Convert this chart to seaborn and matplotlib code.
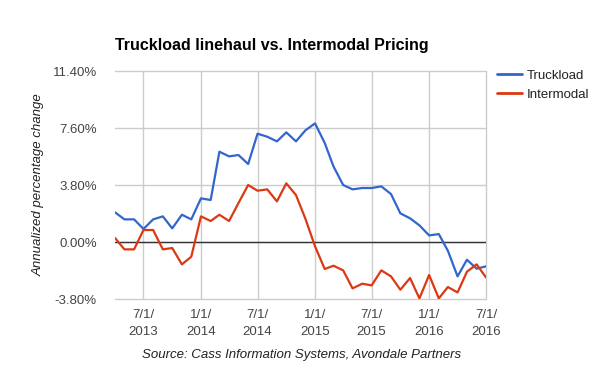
import matplotlib
matplotlib.use('Agg')
import matplotlib.pyplot as plt
import numpy as np
import pandas as pd
import seaborn as sns

sns.set_style('white')
plt.rcParams['font.family'] = ['Liberation Sans', 'DejaVu Sans']

# datos (abr 2013 - jul 2016, mensual)
months = pd.date_range('2013-04-01', '2016-07-01', freq='MS')

truckload = [1.98, 1.51, 1.51, 0.87, 1.51, 1.71, 0.91, 1.82, 1.51,
             2.91, 2.80, 6.02, 5.71, 5.80, 5.20, 7.22, 7.02, 6.71, 7.31, 6.71, 7.44,
             7.91, 6.60, 5.04, 3.80, 3.51, 3.60, 3.60, 3.71, 3.20, 1.91, 1.58, 1.11,
             0.44, 0.53, -0.58, -2.29, -1.18, -1.78, -1.62]

intermodal = [0.27, -0.49, -0.49, 0.80, 0.80, -0.49, -0.40, -1.49, -0.98,
              1.71, 1.40, 1.82, 1.40, 2.60, 3.80, 3.42, 3.51, 2.71, 3.91, 3.13, 1.56,
              -0.29, -1.80, -1.58, -1.89, -3.09, -2.78, -2.89, -1.89, -2.29, -3.18, -2.40, -3.76,
              -2.20, -3.76, -3.00, -3.36, -1.98, -1.49, -2.36]

series_names = ['Truckload', 'Intermodal']
colors = ['#3366cc', '#dc3912']

y_ticks = [-3.8, 0.0, 3.8, 7.6, 11.4]
x_tick_dates = ['2013-07-01', '2014-01-01', '2014-07-01', '2015-01-01',
                '2015-07-01', '2016-01-01', '2016-07-01']
x_tick_labels = ['7/1/\n2013', '1/1/\n2014', '7/1/\n2014', '1/1/\n2015',
                 '7/1/\n2015', '1/1/\n2016', '7/1/\n2016']

df = pd.concat([
    pd.DataFrame({'date': months, 'value': truckload, 'series': 'Truckload'}),
    pd.DataFrame({'date': months, 'value': intermodal, 'series': 'Intermodal'}),
])

fig = plt.figure(figsize=(6, 3.71), dpi=100)
ax = fig.add_axes([0.1917, 0.194, 0.6183, 0.6146])

sns.lineplot(data=df, x='date', y='value', hue='series', hue_order=series_names,
             palette=colors, linewidth=1.6, ax=ax, legend=False, zorder=3)

ax.set_xlim(months[0], months[-1])
ax.set_ylim(-3.8, 11.4)

# grid
ax.set_yticks(y_ticks)
ax.set_yticklabels(['%.2f%%' % v for v in y_ticks])
xt = pd.to_datetime(x_tick_dates)
ax.set_xticks(xt)
ax.set_xticklabels(x_tick_labels, linespacing=1.55)
ax.grid(True, color='#cccccc', linewidth=1)
for gl in ax.get_xgridlines() + ax.get_ygridlines():
    gl.set_clip_on(False)
ax.axhline(0, color='#333333', linewidth=1, zorder=2)
for s in ax.spines.values():
    s.set_visible(False)
ax.tick_params(axis='y', length=0, labelsize=9.5, colors='#444444', pad=13)
ax.tick_params(axis='x', length=0, labelsize=9.5, colors='#444444', pad=7)

ax.set_xlabel('')
ax.set_ylabel('Annualized percentage change', fontstyle='italic', fontsize=9.5,
              color='#222222', labelpad=6)

fig.text(0.1917, 0.865, 'Truckload linehaul vs. Intermodal Pricing',
         fontsize=11.5, fontweight='bold', color='#000000')
fig.text(0.502, 0.035, 'Source: Cass Information Systems, Avondale Partners',
         fontsize=9.5, fontstyle='italic', color='#222222', ha='center')

handles = [plt.Line2D([], [], color=c, linewidth=2) for c in colors]
leg = ax.legend(handles, series_names, loc='upper left', bbox_to_anchor=(1.015, 1.03),
                frameon=False, fontsize=9.5, handlelength=1.9, handletextpad=0.4,
                labelspacing=0.5, borderaxespad=0.0)
for t in leg.get_texts():
    t.set_color('#222222')

fig.savefig('out.png', dpi=100)
